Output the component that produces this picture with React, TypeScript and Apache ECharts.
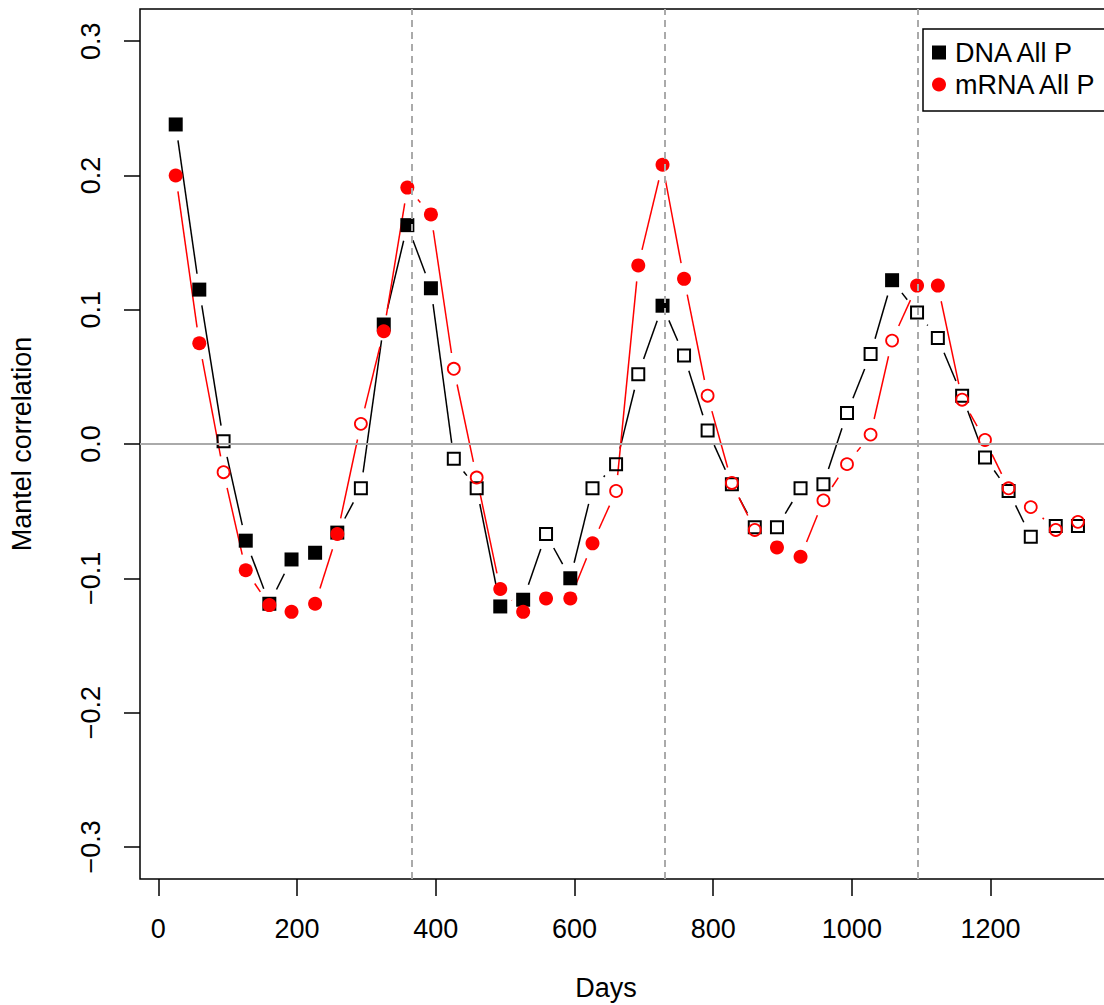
import React, { useEffect, useRef } from "react";
import * as echarts from "echarts";

// Lag (days) for each Mantel correlogram point
const days = [25, 59, 94, 126, 160, 192, 226, 258, 292, 325, 359, 393, 426, 459, 493, 526, 559, 594, 626, 660, 692, 727, 758, 792, 827, 860, 892, 926, 959, 993, 1027, 1058, 1094, 1124, 1159, 1192, 1226, 1258, 1294, 1326];

const dnaValues = [0.238, 0.115, 0.002, -0.072, -0.119, -0.086, -0.081, -0.066, -0.033, 0.089, 0.163, 0.116, -0.011, -0.033, -0.121, -0.116, -0.067, -0.1, -0.033, -0.015, 0.052, 0.103, 0.066, 0.01, -0.03, -0.062, -0.062, -0.033, -0.03, 0.023, 0.067, 0.122, 0.098, 0.079, 0.036, -0.01, -0.035, -0.069, -0.061, -0.061];
// 1 = significant (filled symbol), 0 = not significant (open symbol)
const dnaSignificant = [1, 1, 0, 1, 1, 1, 1, 1, 0, 1, 1, 1, 0, 0, 1, 1, 0, 1, 0, 0, 0, 1, 0, 0, 0, 0, 0, 0, 0, 0, 0, 1, 0, 0, 0, 0, 0, 0, 0, 0];

const mrnaValues = [0.2, 0.075, -0.021, -0.094, -0.12, -0.125, -0.119, -0.067, 0.015, 0.084, 0.191, 0.171, 0.056, -0.025, -0.108, -0.125, -0.115, -0.115, -0.074, -0.035, 0.133, 0.208, 0.123, 0.036, -0.029, -0.064, -0.077, -0.084, -0.042, -0.015, 0.007, 0.077, 0.118, 0.118, 0.033, 0.003, -0.033, -0.047, -0.064, -0.058];
const mrnaSignificant = [1, 1, 0, 1, 1, 1, 1, 1, 0, 1, 1, 1, 0, 0, 1, 1, 1, 1, 1, 0, 1, 1, 1, 0, 0, 0, 1, 1, 0, 0, 0, 0, 1, 1, 0, 0, 0, 0, 0, 0];

const xTicks = [0, 200, 400, 600, 800, 1000, 1200];
const yTicks = [-0.3, -0.2, -0.1, 0, 0.1, 0.2, 0.3];
const yearMarks = [365, 730, 1095];

const FONT = "'Liberation Sans', Arial, Helvetica, sans-serif";
const GAP = 16;

function segments(vals: number[]) {
  return days.slice(0, -1).map((d, i) => [d, vals[i], days[i + 1], vals[i + 1]]);
}
function pick(vals: number[], sig: number[], want: number) {
  return days.map((d, i) => [d, vals[i]]).filter((_, i) => sig[i] === want);
}

function lineSeries(name: string, vals: number[], color: string, extra: any = {}) {
  return {
    name,
    type: "custom",
    data: segments(vals),
    encode: { x: [0, 2], y: [1, 3] },
    silent: true,
    renderItem: (params: any, api: any) => {
      const p1 = api.coord([api.value(0), api.value(1)]);
      const p2 = api.coord([api.value(2), api.value(3)]);
      const dx = p2[0] - p1[0];
      const dy = p2[1] - p1[1];
      const d = Math.hypot(dx, dy);
      if (d <= 2 * GAP) return { type: "group", children: [] };
      const ux = dx / d;
      const uy = dy / d;
      return {
        type: "line",
        shape: {
          x1: p1[0] + ux * GAP,
          y1: p1[1] + uy * GAP,
          x2: p2[0] - ux * GAP,
          y2: p2[1] - uy * GAP,
        },
        style: { stroke: color, lineWidth: 1.5, fill: null },
      };
    },
    ...extra,
  };
}

const fmtY = (v: number) => {
  const s = Math.abs(v).toFixed(1);
  return v < -1e-9 ? "\u2212" + s : s;
};

export default function App() {
  const ref = useRef<HTMLDivElement>(null);
  useEffect(() => {
    if (!ref.current) return;
    const chart = echarts.init(ref.current, null, { renderer: "svg" });
    const gray = "#AAAAAA";
    const option: any = {
      animation: false,
      backgroundColor: "#ffffff",
      textStyle: { fontFamily: FONT },
      grid: {
        left: 140,
        top: 9,
        width: 974,
        height: 870,
        show: true,
        borderColor: "#000",
        borderWidth: 1.5,
        backgroundColor: "transparent",
        containLabel: false,
        outerBoundsMode: "none",
      },
      xAxis: {
        type: "value",
        min: -26.5,
        max: 1378,
        axisLine: { show: false, onZero: false },
        splitLine: { show: false },
        axisTick: {
          show: true,
          length: 17,
          customValues: xTicks,
          lineStyle: { color: "#000", width: 1.5 },
        },
        axisLabel: {
          customValues: xTicks,
          fontSize: 27,
          color: "#000",
          fontFamily: FONT,
          margin: 36,
          formatter: (v: number) => String(v),
        },
      },
      yAxis: {
        type: "value",
        min: -0.324,
        max: 0.324,
        axisLine: { show: false, onZero: false },
        splitLine: { show: false },
        axisTick: {
          show: true,
          length: 16,
          customValues: yTicks,
          lineStyle: { color: "#000", width: 1.5 },
        },
        axisLabel: {
          customValues: yTicks,
          fontSize: 27,
          color: "#000",
          fontFamily: FONT,
          rotate: 90,
          margin: 36,
          formatter: fmtY,
        },
      },
      legend: {
        left: 923,
        top: 29,
        orient: "vertical",
        selectedMode: false,
        padding: [10, 11, 13, 9],
        itemGap: 5,
        itemWidth: 14,
        itemHeight: 14,
        borderColor: "#000",
        borderWidth: 1.5,
        backgroundColor: "#fff",
        textStyle: { fontSize: 27, color: "#000", fontFamily: FONT, padding: [0, 0, 0, 4] },
        data: [
          { name: "DNA All P", icon: "rect" },
          { name: "mRNA All P", icon: "circle" },
        ],
      },
      graphic: [
        {
          type: "text",
          x: 22,
          y: 444,
          rotation: Math.PI / 2,
          style: {
            text: "Mantel correlation",
            fontSize: 27,
            fontFamily: FONT,
            fill: "#000",
            align: "center",
            verticalAlign: "middle",
          },
        },
        {
          type: "text",
          x: 606,
          y: 988,
          style: {
            text: "Days",
            fontSize: 27,
            fontFamily: FONT,
            fill: "#000",
            align: "center",
            verticalAlign: "middle",
          },
        },
      ],
      series: [
        lineSeries("DNA line", dnaValues, "#000", {
          markLine: {
            silent: true,
            symbol: ["none", "none"],
            label: { show: false },
            emphasis: { disabled: true },
            data: [
              { yAxis: 0, lineStyle: { color: gray, width: 2, type: "solid" } },
              ...yearMarks.map((m) => ({
                xAxis: m,
                lineStyle: { color: gray, width: 2, type: [7, 5] },
              })),
            ],
          },
        }),
        {
          name: "DNA All P",
          type: "scatter",
          symbol: "rect",
          symbolSize: 14,
          data: pick(dnaValues, dnaSignificant, 1),
          itemStyle: { color: "#000", opacity: 1 },
          silent: true,
        },
        {
          name: "DNA ns",
          type: "scatter",
          symbol: "rect",
          symbolSize: 12,
          data: pick(dnaValues, dnaSignificant, 0),
          itemStyle: { color: "rgba(0,0,0,0)", borderColor: "#000", borderWidth: 2, opacity: 1 },
          silent: true,
        },
        lineSeries("mRNA line", mrnaValues, "#FF0000"),
        {
          name: "mRNA All P",
          type: "scatter",
          symbol: "circle",
          symbolSize: 14,
          data: pick(mrnaValues, mrnaSignificant, 1),
          itemStyle: { color: "#FF0000", opacity: 1 },
          silent: true,
        },
        {
          name: "mRNA ns",
          type: "scatter",
          symbol: "circle",
          symbolSize: 12,
          data: pick(mrnaValues, mrnaSignificant, 0),
          itemStyle: { color: "rgba(0,0,0,0)", borderColor: "#FF0000", borderWidth: 1.8, opacity: 1 },
          silent: true,
        },
      ],
    };
    chart.setOption(option);
    return () => chart.dispose();
  }, []);
  return (
    <div
      ref={ref}
      style={{ position: "absolute", left: 0, top: 0, width: 1104, height: 1005 }}
    />
  );
}
